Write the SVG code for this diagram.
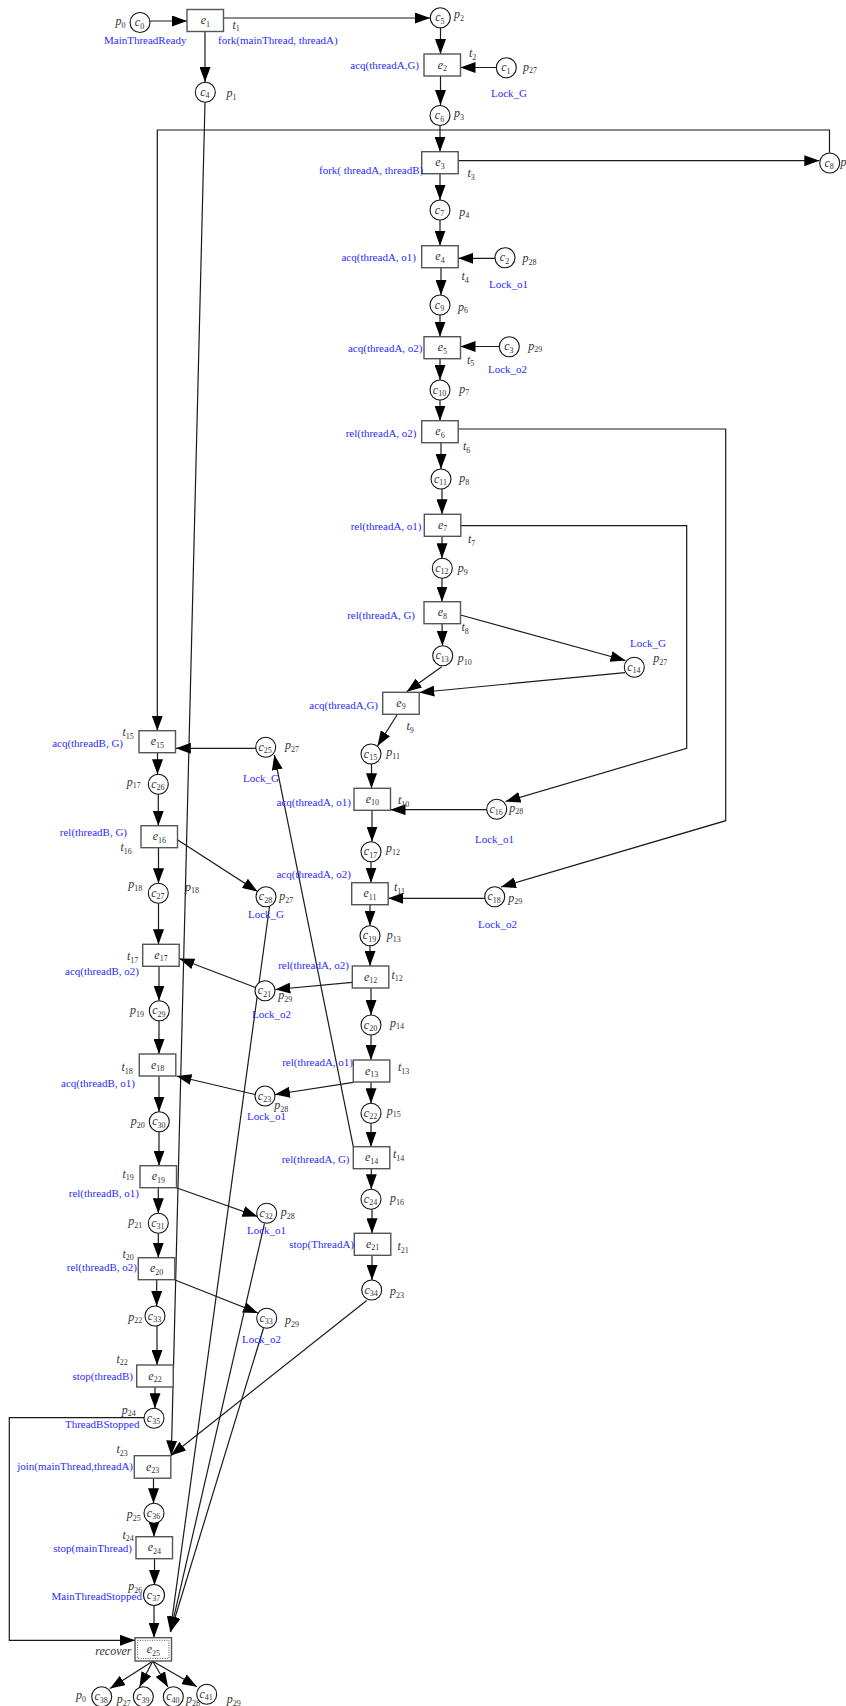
<svg xmlns="http://www.w3.org/2000/svg" width="846" height="1706" viewBox="0 0 846 1706">
<style>
  .tr { fill:#fff; stroke:#555; stroke-width:1.4; }
  .pl { fill:#fff; stroke:#111; stroke-width:1.1; }
  .n { font-family:"Liberation Serif",serif; font-style:italic; font-size:12px; fill:#333; text-anchor:middle; }
  .lb { font-family:"Liberation Serif",serif; font-style:italic; font-size:12px; fill:#333; }
  .s { font-size:8px; font-style:normal; }
  .bl { font-family:"Liberation Serif",serif; font-size:11px; fill:#2b2bff; }
  .e { text-anchor:end; }
  #arcs path { fill:none; stroke:#1a1a1a; stroke-width:1.2; marker-end:url(#ah); }
</style>
<defs>
  <marker id="ah" viewBox="0 0 15 11" refX="15" refY="5.5" markerWidth="15" markerHeight="11" orient="auto" markerUnits="userSpaceOnUse">
    <path d="M0,0 L15,5.5 L0,11 z" fill="#000"/>
  </marker>
</defs>
<rect width="846" height="1706" fill="#fff"/>

<!-- arcs between places and transitions -->
<g id="arcs">
  <path d="M150,21 L187,21"/>
  <path d="M223.5,18 L430,18"/>
  <path d="M205,32 L205,82"/>
  <path d="M440.5,28 L440.5,54"/>
  <path d="M496,67.5 L460.5,67.5"/>
  <path d="M440.5,76 L440.5,105"/>
  <path d="M440,125.5 L440,151.7"/>
  <path d="M458.2,160.7 L819.3,160.7"/>
  <path d="M829.5,152.7 L829.5,130 L157.3,130 L157.3,730.7"/>
  <path d="M440,173.7 L440,200"/>
  <path d="M440,220 L440,245.7"/>
  <path d="M495,258.3 L458.2,258.3"/>
  <path d="M441,267.7 L441,295"/>
  <path d="M440,315 L440,336.7"/>
  <path d="M499.3,346.5 L460.5,346.5"/>
  <path d="M440,358.7 L440,380"/>
  <path d="M440,400 L440,420.7"/>
  <path d="M458.2,429 L725.7,429 L725.7,820.7 L501,887"/>
  <path d="M441,442.7 L441,469"/>
  <path d="M442,489 L442,514.3"/>
  <path d="M460.8,525.7 L686.7,525.7 L686.7,748.3 L505.5,801.5"/>
  <path d="M442,536.3 L442,558.3"/>
  <path d="M442,578.3 L442,601.7"/>
  <path d="M442,623.7 L442.5,645.7"/>
  <path d="M460.5,615 L625.5,660.5"/>
  <path d="M441.7,666.7 L406.7,691.7"/>
  <path d="M625,672.7 L419.3,692.5"/>
  <path d="M397.3,714.5 L377.5,746"/>
  <path d="M371.5,764 L371.5,788.3"/>
  <path d="M486.7,809.7 L390.5,809.7"/>
  <path d="M372,810.3 L372,841.7"/>
  <path d="M371,861.7 L371,882.7"/>
  <path d="M485,898.3 L388.2,898.3"/>
  <path d="M370,904.7 L370,925.7"/>
  <path d="M370,945.7 L370,966"/>
  <path d="M352.3,982.3 L275.3,989.5"/>
  <path d="M255.5,987.5 L179.3,958.5"/>
  <path d="M371,988 L371,1015"/>
  <path d="M371,1035 L371,1060"/>
  <path d="M353.3,1082.3 L275,1094.5"/>
  <path d="M255,1094.5 L176.5,1076"/>
  <path d="M371,1082.3 L371,1103.3"/>
  <path d="M371,1123.3 L371,1146.7"/>
  <path d="M353.3,1146.7 L274.3,755"/>
  <path d="M371.3,1168.7 L371.3,1189.3"/>
  <path d="M372,1209.3 L372,1233.3"/>
  <path d="M372,1255.3 L372,1280"/>
  <path d="M366.7,1300.5 L171,1455.5"/>
  <path d="M205,102.3 L171.3,1455.5"/>
  <path d="M256,748.3 L175.8,748.3"/>
  <path d="M157.5,752.7 L157.5,774.3"/>
  <path d="M158.3,794.3 L158.3,825.7"/>
  <path d="M177.8,840 L257.5,891.5"/>
  <path d="M158.5,847.7 L158.5,883.3"/>
  <path d="M158.5,903.3 L158.5,944.3"/>
  <path d="M159,966.3 L159,1000.7"/>
  <path d="M159,1020.7 L159,1054"/>
  <path d="M159,1076 L159,1111.7"/>
  <path d="M159,1131.7 L159,1165.7"/>
  <path d="M173.5,1186.7 L257.5,1216.5"/>
  <path d="M158.3,1187.7 L158.3,1213.3"/>
  <path d="M158.3,1233.3 L158.3,1257.7"/>
  <path d="M175,1280 L258,1313"/>
  <path d="M156.7,1279.7 L156.7,1306"/>
  <path d="M157,1326 L157,1365"/>
  <path d="M155,1386.7 L155,1408.3"/>
  <path d="M144,1417.7 L9.3,1417.7 L9.3,1640.3 L135,1640.3"/>
  <path d="M153.5,1478 L153.5,1503.3"/>
  <path d="M154,1523.3 L154,1536.7"/>
  <path d="M154.5,1558.7 L154.5,1585"/>
  <path d="M154,1605 L154,1637.7"/>
  <path d="M269.5,906.5 L170.3,1631.7"/>
  <path d="M264.5,1223.3 L170.5,1631.7"/>
  <path d="M263.5,1328.3 L170.7,1631.7"/>
  <path d="M152.7,1661.3 L110,1688.5"/>
  <path d="M152.7,1661.3 L139.5,1687"/>
  <path d="M152.7,1661.3 L168,1687"/>
  <path d="M152.7,1661.3 L197,1686.7"/>
</g>

<!-- transitions -->
<g id="e1"><rect class="tr" x="187" y="9.5" width="36.5" height="22"/><text class="n" x="205.3" y="24">e<tspan class="s" dy="2.5">1</tspan></text><text class="lb" x="232.5" y="28.5">t<tspan class="s" dy="2.5">1</tspan></text><text class="bl" x="218" y="44">fork(mainThread, threadA)</text></g>
<g id="e2"><rect class="tr" x="424" y="54" width="36.5" height="22"/><text class="n" x="442.3" y="68.5">e<tspan class="s" dy="2.5">2</tspan></text><text class="lb" x="469" y="57">t<tspan class="s" dy="2.5">2</tspan></text><text class="bl e" x="419" y="69">acq(threadA,G)</text></g>
<g id="e3"><rect class="tr" x="421.7" y="151.7" width="36.5" height="22"/><text class="n" x="440" y="166.2">e<tspan class="s" dy="2.5">3</tspan></text><text class="lb" x="467.5" y="177">t<tspan class="s" dy="2.5">3</tspan></text><text class="bl" x="319" y="173.5">fork( threadA, threadB)</text></g>
<g id="e4"><rect class="tr" x="421.7" y="245.7" width="36.5" height="22"/><text class="n" x="440" y="260.2">e<tspan class="s" dy="2.5">4</tspan></text><text class="lb" x="461.5" y="280">t<tspan class="s" dy="2.5">4</tspan></text><text class="bl e" x="416" y="260.5">acq(threadA, o1)</text></g>
<g id="e5"><rect class="tr" x="424" y="336.7" width="36.5" height="22"/><text class="n" x="442.3" y="351.2">e<tspan class="s" dy="2.5">5</tspan></text><text class="lb" x="467" y="363.5">t<tspan class="s" dy="2.5">5</tspan></text><text class="bl e" x="422.5" y="352">acq(threadA, o2)</text></g>
<g id="e6"><rect class="tr" x="421.7" y="420.7" width="36.5" height="22"/><text class="n" x="440" y="435.2">e<tspan class="s" dy="2.5">6</tspan></text><text class="lb" x="463" y="450">t<tspan class="s" dy="2.5">6</tspan></text><text class="bl e" x="416.5" y="437">rel(threadA, o2)</text></g>
<g id="e7"><rect class="tr" x="424.3" y="514.3" width="36.5" height="22"/><text class="n" x="442.6" y="528.8">e<tspan class="s" dy="2.5">7</tspan></text><text class="lb" x="468" y="543">t<tspan class="s" dy="2.5">7</tspan></text><text class="bl e" x="421.5" y="530">rel(threadA, o1)</text></g>
<g id="e8"><rect class="tr" x="424" y="601.7" width="36.5" height="22"/><text class="n" x="442.3" y="616.2">e<tspan class="s" dy="2.5">8</tspan></text><text class="lb" x="461.5" y="631">t<tspan class="s" dy="2.5">8</tspan></text><text class="bl e" x="415" y="619">rel(threadA, G)</text></g>
<g id="e9"><rect class="tr" x="382.7" y="692.3" width="36.5" height="22"/><text class="n" x="401" y="706.8">e<tspan class="s" dy="2.5">9</tspan></text><text class="lb" x="406.5" y="730">t<tspan class="s" dy="2.5">9</tspan></text><text class="bl e" x="378" y="709">acq(threadA,G)</text></g>
<g id="e10"><rect class="tr" x="354" y="788.3" width="36.5" height="22"/><text class="n" x="372.3" y="802.8">e<tspan class="s" dy="2.5">10</tspan></text><text class="lb" x="398" y="804">t<tspan class="s" dy="2.5">10</tspan></text><text class="bl e" x="351" y="806">acq(threadA, o1)</text></g>
<g id="e11"><rect class="tr" x="351.7" y="882.7" width="36.5" height="22"/><text class="n" x="370" y="897.2">e<tspan class="s" dy="2.5">11</tspan></text><text class="lb" x="394" y="891">t<tspan class="s" dy="2.5">11</tspan></text><text class="bl e" x="351" y="878">acq(threadA, o2)</text></g>
<g id="e12"><rect class="tr" x="352.3" y="966" width="36.5" height="22"/><text class="n" x="370.6" y="980.5">e<tspan class="s" dy="2.5">12</tspan></text><text class="lb" x="391.5" y="978.5">t<tspan class="s" dy="2.5">12</tspan></text><text class="bl e" x="349" y="969">rel(threadA, o2)</text></g>
<g id="e13"><rect class="tr" x="353.3" y="1060" width="36.5" height="22"/><text class="n" x="371.6" y="1074.5">e<tspan class="s" dy="2.5">13</tspan></text><text class="lb" x="398" y="1071">t<tspan class="s" dy="2.5">13</tspan></text><text class="bl e" x="353" y="1066">rel(threadA, o1)</text></g>
<g id="e14"><rect class="tr" x="353.3" y="1146.7" width="36.5" height="22"/><text class="n" x="371.6" y="1161.2">e<tspan class="s" dy="2.5">14</tspan></text><text class="lb" x="393" y="1158">t<tspan class="s" dy="2.5">14</tspan></text><text class="bl e" x="349.5" y="1163">rel(threadA, G)</text></g>
<g id="e21"><rect class="tr" x="354.3" y="1233.3" width="36.5" height="22"/><text class="n" x="372.6" y="1247.8">e<tspan class="s" dy="2.5">21</tspan></text><text class="lb" x="397.5" y="1250">t<tspan class="s" dy="2.5">21</tspan></text><text class="bl e" x="354" y="1248">stop(ThreadA)</text></g>
<g id="e15"><rect class="tr" x="139" y="730.7" width="36.5" height="22"/><text class="n" x="157.3" y="745.2">e<tspan class="s" dy="2.5">15</tspan></text><text class="lb" x="122.5" y="736">t<tspan class="s" dy="2.5">15</tspan></text><text class="bl e" x="123" y="747">acq(threadB, G)</text></g>
<g id="e16"><rect class="tr" x="141" y="825.7" width="36.5" height="22"/><text class="n" x="159.3" y="840.2">e<tspan class="s" dy="2.5">16</tspan></text><text class="lb" x="120.5" y="851">t<tspan class="s" dy="2.5">16</tspan></text><text class="bl e" x="127" y="836">rel(threadB, G)</text></g>
<g id="e17"><rect class="tr" x="142.7" y="944.3" width="36.5" height="22"/><text class="n" x="161" y="958.8">e<tspan class="s" dy="2.5">17</tspan></text><text class="lb" x="127" y="960">t<tspan class="s" dy="2.5">17</tspan></text><text class="bl e" x="139" y="975">acq(threadB, o2)</text></g>
<g id="e18"><rect class="tr" x="139.3" y="1054" width="36.5" height="22"/><text class="n" x="157.6" y="1068.5">e<tspan class="s" dy="2.5">18</tspan></text><text class="lb" x="121.5" y="1071">t<tspan class="s" dy="2.5">18</tspan></text><text class="bl e" x="135" y="1087">acq(threadB, o1)</text></g>
<g id="e19"><rect class="tr" x="140" y="1165.7" width="36.5" height="22"/><text class="n" x="158.3" y="1180.2">e<tspan class="s" dy="2.5">19</tspan></text><text class="lb" x="122.5" y="1177.5">t<tspan class="s" dy="2.5">19</tspan></text><text class="bl e" x="139" y="1197">rel(threadB, o1)</text></g>
<g id="e20"><rect class="tr" x="138.3" y="1257.7" width="36.5" height="22"/><text class="n" x="156.6" y="1272.2">e<tspan class="s" dy="2.5">20</tspan></text><text class="lb" x="122.5" y="1257.5">t<tspan class="s" dy="2.5">20</tspan></text><text class="bl e" x="137" y="1271">rel(threadB, o2)</text></g>
<g id="e22"><rect class="tr" x="136.7" y="1365" width="36.5" height="22"/><text class="n" x="155" y="1379.5">e<tspan class="s" dy="2.5">22</tspan></text><text class="lb" x="116.5" y="1362.5">t<tspan class="s" dy="2.5">22</tspan></text><text class="bl e" x="133" y="1380">stop(threadB)</text></g>
<g id="e23"><rect class="tr" x="134.3" y="1455.7" width="36.5" height="22.5"/><text class="n" x="152.6" y="1470.5">e<tspan class="s" dy="2.5">23</tspan></text><text class="lb" x="116.5" y="1453">t<tspan class="s" dy="2.5">23</tspan></text><text class="bl e" x="133" y="1469.5">join(mainThread,threadA)</text></g>
<g id="e24"><rect class="tr" x="136" y="1536.7" width="36.5" height="22"/><text class="n" x="154.3" y="1551.2">e<tspan class="s" dy="2.5">24</tspan></text><text class="lb" x="122.5" y="1538.5">t<tspan class="s" dy="2.5">24</tspan></text><text class="bl e" x="132" y="1552">stop(mainThread)</text></g>
<g id="e25"><rect class="tr" x="135" y="1637.7" width="36.5" height="23.3" stroke-width="1.6"/><rect x="137.6" y="1640.3" width="31.3" height="18.1" fill="none" stroke="#555" stroke-width="1" stroke-dasharray="1,1.4"/><text class="n" x="153.3" y="1653">e<tspan class="s" dy="2.5">25</tspan></text><text class="lb e" x="131.5" y="1655">recover</text></g>

<!-- places -->
<g id="c0"><circle class="pl" cx="140" cy="22.5" r="10"/><text class="n" x="139.5" y="26">c<tspan class="s" dy="2.5">0</tspan></text><text class="lb" x="115.5" y="25">p<tspan class="s" dy="2.5">0</tspan></text><text class="bl" x="104" y="44">MainThreadReady</text></g>
<g id="c4"><circle class="pl" cx="205.3" cy="92.2" r="10"/><text class="n" x="204.8" y="95.7">c<tspan class="s" dy="2.5">4</tspan></text><text class="lb" x="226.5" y="97">p<tspan class="s" dy="2.5">1</tspan></text></g>
<g id="c5"><circle class="pl" cx="440.3" cy="17.8" r="10"/><text class="n" x="439.8" y="21.3">c<tspan class="s" dy="2.5">5</tspan></text><text class="lb" x="454" y="18">p<tspan class="s" dy="2.5">2</tspan></text></g>
<g id="c1"><circle class="pl" cx="506.3" cy="67.8" r="10"/><text class="n" x="505.8" y="71.3">c<tspan class="s" dy="2.5">1</tspan></text><text class="lb" x="523" y="70.5">p<tspan class="s" dy="2.5">27</tspan></text><text class="bl" x="491" y="97">Lock_G</text></g>
<g id="c6"><circle class="pl" cx="440" cy="115.5" r="10"/><text class="n" x="439.5" y="119">c<tspan class="s" dy="2.5">6</tspan></text><text class="lb" x="454" y="117">p<tspan class="s" dy="2.5">3</tspan></text></g>
<g id="c8"><circle class="pl" cx="829.7" cy="163" r="10"/><text class="n" x="829.2" y="166.5">c<tspan class="s" dy="2.5">8</tspan></text><text class="lb" x="840.5" y="165.5">p</text></g>
<g id="c7"><circle class="pl" cx="440" cy="210" r="10"/><text class="n" x="439.5" y="213.5">c<tspan class="s" dy="2.5">7</tspan></text><text class="lb" x="459.3" y="215.5">p<tspan class="s" dy="2.5">4</tspan></text></g>
<g id="c2"><circle class="pl" cx="505" cy="257.7" r="10"/><text class="n" x="504.5" y="261.2">c<tspan class="s" dy="2.5">2</tspan></text><text class="lb" x="522.5" y="262">p<tspan class="s" dy="2.5">28</tspan></text><text class="bl" x="489" y="288">Lock_o1</text></g>
<g id="c9"><circle class="pl" cx="440" cy="305" r="10"/><text class="n" x="439.5" y="308.5">c<tspan class="s" dy="2.5">9</tspan></text><text class="lb" x="458" y="310.5">p<tspan class="s" dy="2.5">6</tspan></text></g>
<g id="c3"><circle class="pl" cx="509.3" cy="346.7" r="10"/><text class="n" x="508.8" y="350.2">c<tspan class="s" dy="2.5">3</tspan></text><text class="lb" x="528.3" y="349.5">p<tspan class="s" dy="2.5">29</tspan></text><text class="bl" x="488" y="373">Lock_o2</text></g>
<g id="c10"><circle class="pl" cx="440" cy="390" r="10"/><text class="n" x="439.5" y="393.5">c<tspan class="s" dy="2.5">10</tspan></text><text class="lb" x="459.3" y="392.8">p<tspan class="s" dy="2.5">7</tspan></text></g>
<g id="c11"><circle class="pl" cx="441" cy="479" r="10"/><text class="n" x="440.5" y="482.5">c<tspan class="s" dy="2.5">11</tspan></text><text class="lb" x="459.3" y="482">p<tspan class="s" dy="2.5">8</tspan></text></g>
<g id="c12"><circle class="pl" cx="442.3" cy="568.3" r="10"/><text class="n" x="441.8" y="571.8">c<tspan class="s" dy="2.5">12</tspan></text><text class="lb" x="457.7" y="572">p<tspan class="s" dy="2.5">9</tspan></text></g>
<g id="c13"><circle class="pl" cx="442.7" cy="655.7" r="10"/><text class="n" x="442.2" y="659.2">c<tspan class="s" dy="2.5">13</tspan></text><text class="lb" x="457.7" y="662">p<tspan class="s" dy="2.5">10</tspan></text></g>
<g id="c14"><circle class="pl" cx="634.3" cy="667.3" r="10"/><text class="n" x="633.8" y="670.8">c<tspan class="s" dy="2.5">14</tspan></text><text class="lb" x="653.3" y="662">p<tspan class="s" dy="2.5">27</tspan></text><text class="bl" x="630" y="647">Lock_G</text></g>
<g id="c15"><circle class="pl" cx="371" cy="754" r="10"/><text class="n" x="370.5" y="757.5">c<tspan class="s" dy="2.5">15</tspan></text><text class="lb" x="386.3" y="756">p<tspan class="s" dy="2.5">11</tspan></text></g>
<g id="c16"><circle class="pl" cx="496.7" cy="809.3" r="10"/><text class="n" x="496.2" y="812.8">c<tspan class="s" dy="2.5">16</tspan></text><text class="lb" x="509.3" y="811.5">p<tspan class="s" dy="2.5">28</tspan></text><text class="bl" x="475" y="843">Lock_o1</text></g>
<g id="c17"><circle class="pl" cx="371" cy="851.7" r="10"/><text class="n" x="370.5" y="855.2">c<tspan class="s" dy="2.5">17</tspan></text><text class="lb" x="386" y="852">p<tspan class="s" dy="2.5">12</tspan></text></g>
<g id="c18"><circle class="pl" cx="494.7" cy="896.7" r="10"/><text class="n" x="494.2" y="900.2">c<tspan class="s" dy="2.5">18</tspan></text><text class="lb" x="508.3" y="901.5">p<tspan class="s" dy="2.5">29</tspan></text><text class="bl" x="478" y="928">Lock_o2</text></g>
<g id="c19"><circle class="pl" cx="370" cy="935.7" r="10"/><text class="n" x="369.5" y="939.2">c<tspan class="s" dy="2.5">19</tspan></text><text class="lb" x="386.7" y="939">p<tspan class="s" dy="2.5">13</tspan></text></g>
<g id="c20"><circle class="pl" cx="371" cy="1025" r="10"/><text class="n" x="370.5" y="1028.5">c<tspan class="s" dy="2.5">20</tspan></text><text class="lb" x="390" y="1026.5">p<tspan class="s" dy="2.5">14</tspan></text></g>
<g id="c22"><circle class="pl" cx="371" cy="1113.3" r="10"/><text class="n" x="370.5" y="1116.8">c<tspan class="s" dy="2.5">22</tspan></text><text class="lb" x="386.7" y="1114.8">p<tspan class="s" dy="2.5">15</tspan></text></g>
<g id="c24"><circle class="pl" cx="371" cy="1199.3" r="10"/><text class="n" x="370.5" y="1202.8">c<tspan class="s" dy="2.5">24</tspan></text><text class="lb" x="390" y="1202">p<tspan class="s" dy="2.5">16</tspan></text></g>
<g id="c34"><circle class="pl" cx="371.7" cy="1290" r="10"/><text class="n" x="371.2" y="1293.5">c<tspan class="s" dy="2.5">34</tspan></text><text class="lb" x="390" y="1295">p<tspan class="s" dy="2.5">23</tspan></text></g>
<g id="c25"><circle class="pl" cx="265.7" cy="747.3" r="10"/><text class="n" x="265.2" y="750.8">c<tspan class="s" dy="2.5">25</tspan></text><text class="lb" x="285" y="749">p<tspan class="s" dy="2.5">27</tspan></text><text class="bl" x="243" y="782">Lock_G</text></g>
<g id="c26"><circle class="pl" cx="158.3" cy="784.3" r="10"/><text class="n" x="157.8" y="787.8">c<tspan class="s" dy="2.5">26</tspan></text><text class="lb" x="126.7" y="785.5">p<tspan class="s" dy="2.5">17</tspan></text></g>
<g id="c27"><circle class="pl" cx="158.3" cy="893.3" r="10"/><text class="n" x="157.8" y="896.8">c<tspan class="s" dy="2.5">27</tspan></text><text class="lb" x="128.3" y="888">p<tspan class="s" dy="2.5">18</tspan></text><text class="lb" x="185" y="890.5">p<tspan class="s" dy="2.5">18</tspan></text></g>
<g id="c28"><circle class="pl" cx="266" cy="896.7" r="10"/><text class="n" x="265.5" y="900.2">c<tspan class="s" dy="2.5">28</tspan></text><text class="lb" x="279.3" y="900">p<tspan class="s" dy="2.5">27</tspan></text><text class="bl" x="248" y="918">Lock_G</text></g>
<g id="c21"><circle class="pl" cx="265" cy="990.7" r="10"/><text class="n" x="264.5" y="994.2">c<tspan class="s" dy="2.5">21</tspan></text><text class="lb" x="278.3" y="999">p<tspan class="s" dy="2.5">29</tspan></text><text class="bl" x="252" y="1018">Lock_o2</text></g>
<g id="c29"><circle class="pl" cx="159.3" cy="1010.7" r="10"/><text class="n" x="158.8" y="1014.2">c<tspan class="s" dy="2.5">29</tspan></text><text class="lb" x="130" y="1014">p<tspan class="s" dy="2.5">19</tspan></text></g>
<g id="c23"><circle class="pl" cx="265" cy="1096" r="10"/><text class="n" x="264.5" y="1099.5">c<tspan class="s" dy="2.5">23</tspan></text><text class="lb" x="274.3" y="1109">p<tspan class="s" dy="2.5">28</tspan></text><text class="bl" x="247" y="1120">Lock_o1</text></g>
<g id="c30"><circle class="pl" cx="159.3" cy="1121.7" r="10"/><text class="n" x="158.8" y="1125.2">c<tspan class="s" dy="2.5">30</tspan></text><text class="lb" x="130.7" y="1125">p<tspan class="s" dy="2.5">20</tspan></text></g>
<g id="c32"><circle class="pl" cx="266.7" cy="1213.3" r="10"/><text class="n" x="266.2" y="1216.8">c<tspan class="s" dy="2.5">32</tspan></text><text class="lb" x="280.7" y="1216">p<tspan class="s" dy="2.5">28</tspan></text><text class="bl" x="247" y="1234">Lock_o1</text></g>
<g id="c31"><circle class="pl" cx="158.3" cy="1223.3" r="10"/><text class="n" x="157.8" y="1226.8">c<tspan class="s" dy="2.5">31</tspan></text><text class="lb" x="128.3" y="1225">p<tspan class="s" dy="2.5">21</tspan></text></g>
<g id="c33"><circle class="pl" cx="155" cy="1316" r="10"/><text class="n" x="154.5" y="1319.5">c<tspan class="s" dy="2.5">33</tspan></text><text class="lb" x="128.3" y="1320.5">p<tspan class="s" dy="2.5">22</tspan></text></g>
<g id="c33b"><circle class="pl" cx="266.7" cy="1318.3" r="10"/><text class="n" x="266.2" y="1321.8">c<tspan class="s" dy="2.5">33</tspan></text><text class="lb" x="285" y="1324">p<tspan class="s" dy="2.5">29</tspan></text><text class="bl" x="242" y="1343">Lock_o2</text></g>
<g id="c35"><circle class="pl" cx="154" cy="1418.3" r="10"/><text class="n" x="153.5" y="1421.8">c<tspan class="s" dy="2.5">35</tspan></text><text class="lb" x="121.7" y="1413.8">p<tspan class="s" dy="2.5">24</tspan></text><text class="bl e" x="139.5" y="1428">ThreadBStopped</text></g>
<g id="c36"><circle class="pl" cx="154" cy="1513.3" r="10"/><text class="n" x="153.5" y="1516.8">c<tspan class="s" dy="2.5">36</tspan></text><text class="lb" x="126.7" y="1518">p<tspan class="s" dy="2.5">25</tspan></text></g>
<g id="c37"><circle class="pl" cx="154" cy="1595" r="10.5"/><text class="n" x="153.5" y="1598.5">c<tspan class="s" dy="2.5">37</tspan></text><text class="lb" x="128.3" y="1590">p<tspan class="s" dy="2.5">26</tspan></text><text class="bl e" x="142" y="1600">MainThreadStopped</text></g>
<g id="c38"><circle class="pl" cx="101.7" cy="1696.7" r="10"/><text class="n" x="101.2" y="1700.2">c<tspan class="s" dy="2.5">38</tspan></text><text class="lb" x="76" y="1699">p<tspan class="s" dy="2.5">0</tspan></text></g>
<g id="c39"><circle class="pl" cx="143.3" cy="1696.7" r="10"/><text class="n" x="142.8" y="1700.2">c<tspan class="s" dy="2.5">39</tspan></text><text class="lb" x="116.7" y="1703">p<tspan class="s" dy="2.5">27</tspan></text></g>
<g id="c40"><circle class="pl" cx="173.3" cy="1696.7" r="10"/><text class="n" x="172.8" y="1700.2">c<tspan class="s" dy="2.5">40</tspan></text><text class="lb" x="186" y="1703">p<tspan class="s" dy="2.5">28</tspan></text></g>
<g id="c41"><circle class="pl" cx="206.7" cy="1694.3" r="10"/><text class="n" x="206.2" y="1697.8">c<tspan class="s" dy="2.5">41</tspan></text><text class="lb" x="226.7" y="1703">p<tspan class="s" dy="2.5">29</tspan></text></g>
</svg>
